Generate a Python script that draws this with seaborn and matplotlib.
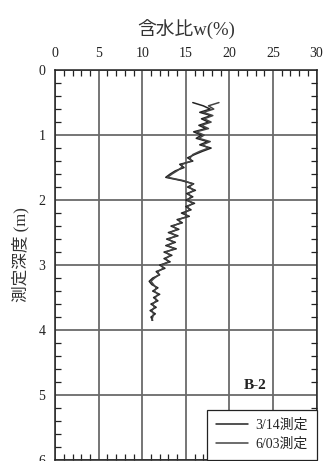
import numpy as np
import pandas as pd
import matplotlib
matplotlib.use("Agg")
import matplotlib.pyplot as plt
import seaborn as sns
from matplotlib.ticker import MultipleLocator

depth = [0.50, 0.55, 0.60, 0.65, 0.70, 0.75, 0.80, 0.85, 0.90, 0.95,
         1.00, 1.05, 1.10, 1.15, 1.20, 1.25, 1.30, 1.35, 1.40, 1.45,
         1.50, 1.55, 1.60, 1.65, 1.70, 1.75, 1.80, 1.85, 1.90, 1.95,
         2.00, 2.05, 2.10, 2.15, 2.20, 2.25, 2.30, 2.35, 2.40, 2.45,
         2.50, 2.55, 2.60, 2.65, 2.70, 2.75, 2.80, 2.85, 2.90, 2.95,
         3.00, 3.05, 3.10, 3.15, 3.20, 3.25, 3.30, 3.35, 3.40, 3.45,
         3.50, 3.55, 3.60, 3.65, 3.70, 3.75, 3.80, 3.85]

w_0314 = [15.8, 17.0, 17.8, 16.6, 17.9, 16.8, 17.6, 16.5, 17.3, 15.9,
          16.8, 16.2, 17.5, 16.6, 17.9, 16.9, 16.0, 15.2, 15.8, 14.3,
          14.8, 13.8, 13.2, 12.7, 14.5, 15.9, 15.2, 16.1, 15.1, 15.8,
          15.0, 16.0, 15.0, 15.6, 14.5, 15.4, 14.0, 14.6, 13.3, 14.2,
          13.0, 14.1, 12.8, 13.8, 12.7, 13.9, 12.5, 13.4, 12.5, 13.2,
          12.0, 12.6, 11.6, 12.0, 11.2, 10.8, 11.1, 11.8, 11.2, 12.0,
          11.3, 11.8, 11.0, 11.6, 10.9, 11.5, 11.0, 11.2]

w_0603 = [18.8, 17.6, 18.2, 17.0, 18.1, 17.1, 17.9, 16.8, 17.6, 16.2,
          17.1, 16.5, 17.8, 16.9, 17.6, 16.6, 15.8, 15.5, 15.6, 14.6,
          14.5, 14.0, 13.4, 12.9, 14.7, 15.8, 15.4, 15.9, 15.3, 15.6,
          15.2, 15.8, 15.2, 15.4, 14.8, 15.2, 14.2, 14.4, 13.5, 14.0,
          13.2, 13.9, 13.0, 13.6, 12.9, 13.7, 12.7, 13.2, 12.7, 13.0,
          12.2, 12.4, 11.8, 11.9, 11.4, 11.0, 11.3, 11.6, 11.4, 11.8,
          11.5, 11.6, 11.2, 11.4, 11.1, 11.3, 11.2, 11.1]

series_names = ["3/14測定", "6/03測定"]
x_ticks = [0, 5, 10, 15, 20, 25, 30]
y_ticks = [0, 1, 2, 3, 4, 5, 6]
x_label = "含水比w(%)"
y_label = "測定深度 (m)"
panel_label = "B-2"

df = pd.concat([
    pd.DataFrame({"depth": depth, "w": w_0314, "series": series_names[0]}),
    pd.DataFrame({"depth": depth, "w": w_0603, "series": series_names[1]}),
], ignore_index=True)

sns.set_theme(style="white")
plt.rcParams["font.family"] = ["Liberation Serif", "Noto Sans CJK JP"]

fig = plt.figure(figsize=(3.26, 4.61), dpi=100)
ax = fig.add_axes([0.169, 0.002, 0.802, 0.846])

sns.lineplot(data=df, x="w", y="depth", hue="series", sort=False,
             estimator=None, palette=["#222222", "#444444"], linewidth=1.1,
             ax=ax)

ax.set_xlim(0, 30)
ax.set_ylim(6, 0)
ax.set_xticks(x_ticks)
ax.set_yticks(y_ticks)
ax.xaxis.set_minor_locator(MultipleLocator(1))
ax.yaxis.set_minor_locator(MultipleLocator(0.2))
ax.xaxis.tick_top()
ax.xaxis.set_label_position("top")
ax.tick_params(axis="both", which="both", direction="in", top=True,
               bottom=True, left=True, right=True, labelbottom=False,
               labeltop=True, labelright=False, colors="#222222",
               labelsize=10, pad=7)
ax.tick_params(which="major", length=0)
ax.tick_params(which="minor", length=4, width=0.9)
ax.grid(True, which="major", color="#6a6a6a", linewidth=1.3)
for s in ax.spines.values():
    s.set_color("#222222")
    s.set_linewidth(1.1)

ax.set_xlabel(x_label, fontsize=13.5, labelpad=8, color="#333333")
ax.set_ylabel(y_label, fontsize=12, color="#333333")
ax.yaxis.set_label_coords(-0.10, 0.526)

ax.text(22.9, 4.85, panel_label, fontsize=11, fontweight="bold",
        ha="center", va="center", color="#222222")

leg = ax.legend(loc="lower right", borderaxespad=0.0, fontsize=10,
                frameon=True, fancybox=False, handlelength=2.3,
                handletextpad=0.5, labelspacing=0.4, borderpad=0.65,
                title=None)
leg.get_frame().set_edgecolor("#222222")
leg.get_frame().set_linewidth(0.9)
leg.get_frame().set_alpha(1.0)

fig.savefig("out.png", dpi=100)
